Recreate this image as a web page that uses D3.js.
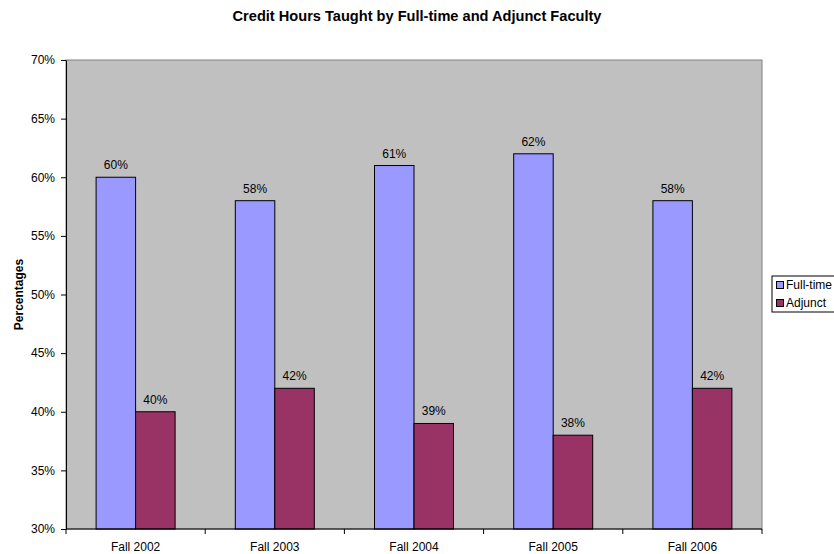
<!DOCTYPE html>
<html>
<head>
<meta charset="utf-8">
<script src="https://cdn.jsdelivr.net/npm/d3@7"></script>
<style>
  body { margin: 0; background: #fff; }
  svg { display: block; }
</style>
</head>
<body>
<script>
var categories = ["Fall 2002", "Fall 2003", "Fall 2004", "Fall 2005", "Fall 2006"];
var seriesNames = ["Full-time", "Adjunct"];
var fullTime = [60, 58, 61, 62, 58];
var adjunct = [40, 42, 39, 38, 42];
var yTicks = [30, 35, 40, 45, 50, 55, 60, 65, 70];
var colors = ["#9999FF", "#993366"];

var width = 834, height = 554;
var plotLeft = 66, plotRight = 762, plotTop = 60, plotBottom = 529;
var font = "Arial, 'Liberation Sans', sans-serif";

var svg = d3.select("body").append("svg")
    .attr("width", width)
    .attr("height", height);

var x = d3.scaleBand().domain(categories).range([plotLeft, plotRight]).paddingInner(0).paddingOuter(0);
var y = d3.scaleLinear().domain([30, 70]).range([plotBottom, plotTop]);
var inner = 79;
var xs = d3.scaleBand().domain(seriesNames).range([0, inner]);

// plot background
svg.append("rect")
    .attr("x", plotLeft).attr("y", plotTop)
    .attr("width", plotRight - plotLeft).attr("height", plotBottom - plotTop)
    .style("fill", "#C0C0C0")
    .style("stroke", "#808080")
    .style("stroke-width", 1);

// bars
var rows = categories.map(function(c, i) { return {cat: c, vals: [fullTime[i], adjunct[i]]}; });
var groups = svg.selectAll(".grp").data(rows).enter().append("g")
    .attr("transform", function(d) { return "translate(" + (x(d.cat) + (x.bandwidth() - inner) / 2) + ",0)"; });

groups.selectAll("rect").data(function(d) {
        return d.vals.map(function(v, j) { return {name: seriesNames[j], v: v, j: j}; });
    }).enter().append("rect")
    .attr("x", function(d) { return xs(d.name); })
    .attr("y", function(d) { return y(d.v); })
    .attr("width", xs.bandwidth())
    .attr("height", function(d) { return plotBottom - y(d.v); })
    .style("fill", function(d) { return colors[d.j]; })
    .style("stroke", "#000")
    .style("stroke-width", 1);

groups.selectAll("text").data(function(d) {
        return d.vals.map(function(v, j) { return {name: seriesNames[j], v: v}; });
    }).enter().append("text")
    .attr("x", function(d) { return xs(d.name) + xs.bandwidth() / 2; })
    .attr("y", function(d) { return y(d.v) - 8; })
    .style("text-anchor", "middle")
    .attr("font-family", font)
    .style("font-size", "12px")
    .style("fill", "#000")
    .text(function(d) { return d.v + "%"; });

// y axis
var yAxis = svg.append("g")
    .attr("transform", "translate(" + plotLeft + ",0)")
    .call(d3.axisLeft(y).tickValues(yTicks).tickSize(5).tickPadding(6).tickSizeOuter(0)
        .tickFormat(function(d) { return d + "%"; }));
yAxis.selectAll("text").attr("font-family", font).style("font-size", "12px").attr("fill", "#000");
yAxis.selectAll("line").attr("stroke", "#000");
yAxis.select(".domain").attr("stroke", "#000");

// x axis
var xTickScale = d3.scaleLinear().domain([0, categories.length]).range([plotLeft, plotRight]);
var xAxis = svg.append("g")
    .attr("transform", "translate(0," + plotBottom + ")");
xAxis.append("line")
    .attr("x1", plotLeft).attr("x2", plotRight)
    .attr("stroke", "#000");
xAxis.selectAll(".tk").data(d3.range(categories.length + 1)).enter().append("line")
    .attr("x1", function(d) { return xTickScale(d); })
    .attr("x2", function(d) { return xTickScale(d); })
    .attr("y1", 0).attr("y2", 5)
    .attr("stroke", "#000");
xAxis.selectAll(".lbl").data(categories).enter().append("text")
    .attr("x", function(d) { return x(d) + x.bandwidth() / 2; })
    .attr("y", 22)
    .style("text-anchor", "middle")
    .attr("font-family", font)
    .style("font-size", "12px")
    .text(function(d) { return d; });

// title
svg.append("text")
    .attr("x", 417).attr("y", 21)
    .style("text-anchor", "middle")
    .attr("font-family", font)
    .style("font-size", "14.6px")
    .style("font-weight", "bold")
    .text("Credit Hours Taught by Full-time and Adjunct Faculty");

// y title
svg.append("text")
    .attr("transform", "translate(23," + ((plotTop + plotBottom) / 2) + ") rotate(-90)")
    .style("text-anchor", "middle")
    .attr("font-family", font)
    .style("font-size", "12px")
    .style("font-weight", "bold")
    .text("Percentages");

// legend
var lg = svg.append("g").attr("transform", "translate(772,276)");
lg.append("rect")
    .attr("width", 70).attr("height", 36)
    .style("fill", "#fff").style("stroke", "#000");
seriesNames.forEach(function(n, i) {
    lg.append("rect")
        .attr("x", 4.5).attr("y", 5.5 + i * 18)
        .attr("width", 7).attr("height", 7)
        .style("fill", colors[i]).style("stroke", "#000");
    lg.append("text")
        .attr("x", 14).attr("y", 9.5 + i * 18)
        .attr("font-family", font)
        .style("font-size", "12px")
        .attr("dominant-baseline", "middle")
        .text(n);
});
</script>
</body>
</html>
